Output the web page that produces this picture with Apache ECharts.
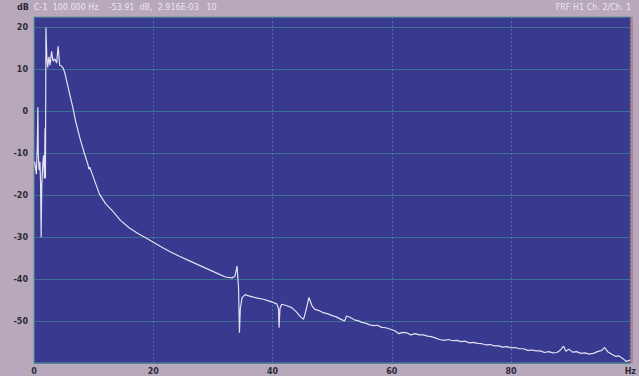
<!DOCTYPE html>
<html>
<head>
<meta charset="utf-8">
<script src="https://cdn.jsdelivr.net/npm/echarts@6/dist/echarts.min.js"></script>
<style>
html,body{margin:0;padding:0;background:#b8a8bb;}
#chart{width:639px;height:376px;}
</style>
</head>
<body>
<div id="chart"></div>
<script>
// Frequency (Hz) of each sample
var freqHz = [
  0.1,0.4,0.55,0.65,0.72,0.85,1.0,1.1,1.2,1.3,1.45,1.6,1.75,1.85,1.92,2.0,2.15,2.3,2.5,2.7,2.95,3.2,3.5,3.8,4.05,4.3,4.6,4.9,5.2,5.6,
  6.0,6.5,7.0,7.7,8.4,9.05,9.2,9.35,10.2,11,12,13.2,14.5,16,17.5,18.8,20,21.6,23,24.3,25.7,27.1,28.5,29.9,31,32.1,33.2,33.7,34.05,34.3,
  34.45,34.6,34.9,35.4,36.0,36.8,37.7,38.5,39.3,40.0,40.7,41.0,41.1,41.25,41.55,42.3,43.2,44.0,44.7,45.2,45.6,46.1,46.6,
  47.1,47.8,48.5,49.3,50.0,50.7,51.5,52.1,52.4,53.0,53.7,54.3,55.0,55.6,56.3,57.0,57.6,58.3,59.0,59.9,60.5,61.2,61.8,62.5,63.2,63.9,
  64.6,65.3,66.0,66.6,67.3,68.0,68.8,69.5,70.2,70.9,71.6,72.3,73.0,73.7,74.4,75.1,75.8,76.5,77.2,77.9,78.6,79.3,80.0,80.7,81.4,82.1,
  82.8,83.5,84.2,84.9,85.6,86.3,87.0,87.7,88.3,88.8,89.2,89.7,90.3,91.0,91.7,92.4,93.1,93.8,94.5,95.2,95.7,96.2,96.9,97.5,98.1,98.7,99.3,100
];
// Magnitude (dB) of each sample
var magDb = [
  -12,-15,-8,1,-10,-14,-12,-17,-30,-18,-13,-10.5,-16,-4,-16,20,13,10.5,13,11,14.3,12,12.5,11.5,15.5,11,10.8,10.3,9,6.5,
  4,1,-2.5,-6.4,-9.8,-12.7,-13.8,-13.3,-16.7,-19.8,-22,-23.8,-26,-27.8,-29.2,-30.2,-31.2,-32.5,-33.6,-34.5,-35.4,-36.3,-37.2,-38.1,-38.8,-39.5,-39.7,-39.3,-36.9,-42,
  -52.8,-47,-44.4,-43.7,-44.0,-44.3,-44.6,-44.8,-45.2,-45.5,-45.9,-47,-51.6,-47,-46,-46.3,-46.8,-47.8,-49,-49.6,-47.5,-44.4,-46.3,
  -47.2,-47.5,-48.0,-48.3,-48.7,-49.0,-49.6,-50.0,-48.8,-49.1,-49.7,-49.9,-50.3,-50.5,-50.9,-51.1,-51.0,-51.5,-51.6,-52.0,-52.3,-53.0,-52.7,-52.8,-53.3,-53.0,
  -53.3,-53.3,-53.6,-53.7,-54.0,-54.4,-54.6,-54.4,-54.7,-54.6,-54.9,-54.8,-55.2,-55.1,-55.3,-55.4,-55.7,-55.6,-55.9,-55.9,-56.2,-56.1,-56.4,-56.3,-56.6,-56.6,
  -57.0,-56.9,-57.1,-57.1,-57.5,-57.3,-57.6,-57.5,-56.9,-56.0,-57.2,-56.7,-57.4,-57.3,-57.7,-57.6,-57.9,-57.7,-57.3,-57.0,-56.3,-57.3,-57.9,-58.4,-58.3,-58.9,-59.6,-59.3
];
// Axis tick labels
var xTickLabels = {0:'0',20:'20',40:'40',60:'60',80:'80',100:'Hz'};
var yTickValues = [20,10,0,-10,-20,-30,-40,-50];
var headerLeft = 'C-1  100.000 Hz    -53.91  dB,  2.916E-03   10';
var headerRight = 'FRF H1 Ch. 2/Ch. 1';
var yUnit = 'dB';

var points = freqHz.map(function(f,i){return [f, magDb[i]];});

var chart = echarts.init(document.getElementById('chart'), null, {renderer:'svg'});
chart.setOption({
  backgroundColor:'#b8a8bb',
  animation:false,
  grid:{left:34,right:7,top:17,bottom:13,show:true,backgroundColor:'#39398f',borderColor:'#6a8a9a',borderWidth:1},
  xAxis:{
    type:'value',min:0,max:100,interval:20,
    axisLine:{show:false},axisTick:{show:false},
    axisLabel:{color:'#2a2a3a',fontSize:8,fontWeight:'bold',fontFamily:'DejaVu Sans',margin:4,
      formatter:function(v){return xTickLabels[v]!==undefined?xTickLabels[v]:'';}},
    splitLine:{show:true,lineStyle:{color:'#3f7a95',type:[2,2],width:1}}
  },
  yAxis:{
    type:'value',min:-60,max:22.5,interval:10,
    axisLine:{show:false},axisTick:{show:false},
    axisLabel:{color:'#2a2a3a',fontSize:8,fontWeight:'bold',fontFamily:'DejaVu Sans',margin:6,
      formatter:function(v){return yTickValues.indexOf(v)>=0?String(v):'';}},
    splitLine:{show:true,lineStyle:{color:'#3a8290',width:1,opacity:0.75}}
  },
  graphic:[
    {type:'text',left:17,top:3,style:{text:yUnit,fill:'#2a2a3a',font:'bold 8px DejaVu Sans'}},
    {type:'text',left:34,top:3,style:{text:headerLeft,fill:'#ece6f2',font:'8px DejaVu Sans'}},
    {type:'text',right:8,top:3,style:{text:headerRight,fill:'#ece6f2',font:'8px DejaVu Sans'}},
    {type:'line',shape:{x1:632,y1:17,x2:632,y2:363},style:{stroke:'#d04a60',lineWidth:1}}
  ],
  series:[{
    type:'line',data:points,showSymbol:false,symbol:'none',
    lineStyle:{color:'#e4e0f2',width:1.2},
    silent:true
  }]
});
</script>
</body>
</html>
